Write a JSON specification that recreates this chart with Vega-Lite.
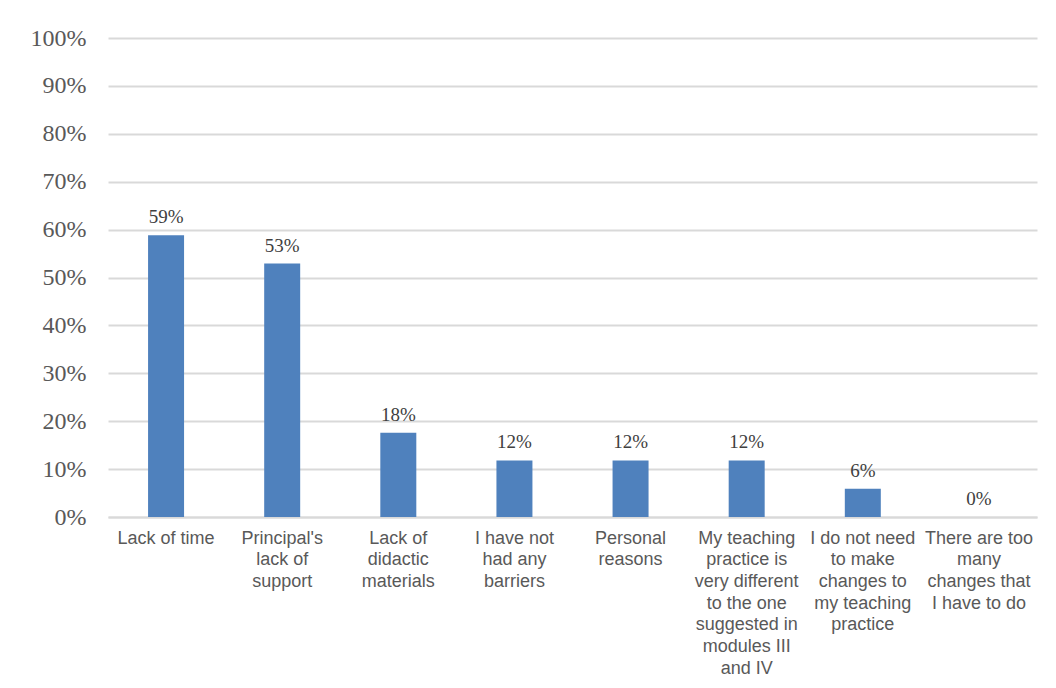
{
  "$schema": "https://vega.github.io/schema/vega-lite/v6.json",
  "width": 929,
  "height": 479,
  "autosize": {"type": "none"},
  "padding": {"left": 108, "top": 38, "right": 19, "bottom": 171},
  "background": "white",
  "config": {"view": {"stroke": null}},
  "data": {
    "values": [
      {"category": "Lack of time", "value": 0.588},
      {"category": "Principal's|lack of|support", "value": 0.529},
      {"category": "Lack of|didactic|materials", "value": 0.176},
      {"category": "I have not|had any|barriers", "value": 0.118},
      {"category": "Personal|reasons", "value": 0.118},
      {"category": "My teaching|practice is|very different|to the one|suggested in|modules III|and IV", "value": 0.118},
      {"category": "I do not need|to make|changes to|my teaching|practice", "value": 0.059},
      {"category": "There are too|many|changes that|I have to do", "value": 0}
    ]
  },
  "encoding": {
    "x": {
      "field": "category",
      "type": "nominal",
      "sort": null,
      "scale": {"paddingInner": 0.69, "paddingOuter": 0.345},
      "axis": {
        "title": null,
        "labelAngle": 0,
        "labelExpr": "split(datum.value, '|')",
        "labelFont": "Liberation Sans",
        "labelFontSize": 18,
        "labelColor": "#595959",
        "labelLineHeight": 21.7,
        "labelPadding": 12,
        "labelBaseline": "top",
        "labelLimit": 200,
        "ticks": false,
        "domain": true,
        "domainColor": "#d9d9d9",
        "domainWidth": 2
      }
    },
    "y": {
      "field": "value",
      "type": "quantitative",
      "scale": {"domain": [0, 1]},
      "axis": {
        "title": null,
        "format": ".0%",
        "values": [0, 0.1, 0.2, 0.3, 0.4, 0.5, 0.6, 0.7, 0.8, 0.9, 1],
        "labelFont": "Liberation Serif",
        "labelFontSize": 24,
        "labelColor": "#595959",
        "labelPadding": 22,
        "ticks": false,
        "domain": false,
        "grid": true,
        "gridColor": "#d9d9d9",
        "gridWidth": 2
      }
    }
  },
  "layer": [
    {"mark": {"type": "bar", "color": "#4f81bd"}},
    {
      "mark": {
        "type": "text",
        "font": "Liberation Serif",
        "fontSize": 19,
        "color": "#404040",
        "baseline": "alphabetic",
        "dy": -12
      },
      "encoding": {"text": {"field": "value", "type": "quantitative", "format": ".0%"}}
    }
  ]
}
